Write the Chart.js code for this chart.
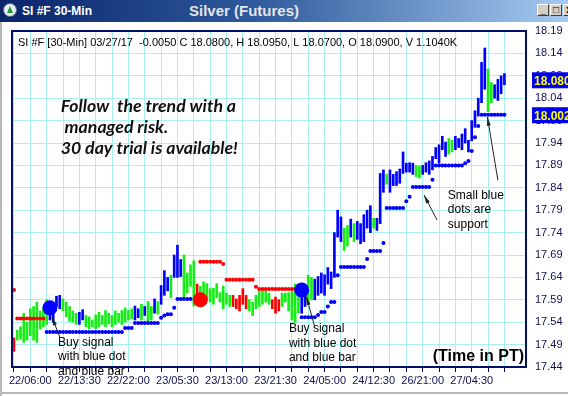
<!DOCTYPE html>
<html lang="en">
<head>
  <meta charset="UTF-8">
  <title>Silver (Futures)</title>
  <script src="https://cdn.jsdelivr.net/npm/chart.js"></script>
  <style>
    body { margin: 0; background: #fff; font-family: "Liberation Sans", Arial, sans-serif; }
    .win { position: relative; width: 568px; height: 396px; overflow: hidden; background: #fff; }
    #chart { position: absolute; left: 0; top: 0; }
    .titlebar {
      position: absolute; left: 0; top: 0; width: 568px; height: 22px;
      background: linear-gradient(to right, #0a246a 0%, #2f5a9c 45%, #a6caf0 100%);
    }
    .icon { position: absolute; left: 3px; top: 3px; width: 14px; height: 14px; border-radius: 50%;
      background: #e8eef8; border: 1px solid #5a6a8a; box-sizing: border-box; }
    .icon:after { content: ''; position: absolute; left: 3px; top: 2px; border-left: 3px solid transparent;
      border-right: 3px solid transparent; border-bottom: 7px solid #1c9c2c; }
    .app { position: absolute; left: 22px; top: 4px; color: #fff; font: bold 12px "Liberation Sans", Arial; }
    .caption { position: absolute; left: 0; width: 488px; top: 2px; text-align: center; color: #e4e4ec;
      font: bold 15px "Liberation Sans", Arial; }
    .btn { position: absolute; top: 4px; width: 12px; height: 12px; background: #d4d0c8;
      border: 1px solid; border-color: #fff #404040 #404040 #fff; box-sizing: border-box;
      font: bold 10px "Liberation Sans", Arial; color: #000; text-align: center; line-height: 10px; }
    .edge-left { position: absolute; left: 0; top: 22px; width: 2px; height: 374px; background: #b8b8b8; }
    .edge-bottom { position: absolute; left: 0; top: 392px; width: 568px; height: 2px; background: #b8b8b8; }
  </style>
</head>
<body>
  <div class="win">
    <canvas id="chart" width="568" height="396"></canvas>
    <div class="titlebar">
      <div class="icon"></div>
      <div class="app">SI #F 30-Min</div>
      <div class="caption">Silver (Futures)</div>
      <div class="btn" style="left:537px">_</div>
      <div class="btn" style="left:550px">&#9633;</div>
      <div class="btn" style="left:563px">x</div>
    </div>
    <div class="edge-left"></div>
    <div class="edge-bottom"></div>
  </div>

  <script>
    const _ = null;

    // x tick labels (every 15 bars, starting at bar 5)
    const timeLabels = ['22/06:00', '22/13:30', '22/22:00', '23/05:30', '23/13:00',
      '23/21:30', '24/05:00', '24/12:30', '26/21:00', '27/04:30'];
    const yTicks = [17.44, 17.49, 17.54, 17.59, 17.64, 17.69, 17.74, 17.79,
      17.84, 17.89, 17.94, 17.99, 18.04, 18.09, 18.14, 18.19];

    // 30-min bars: low / high / colour (g = green, b = blue, r = red)
    const lows = [
      17.475, 17.500, 17.502, 17.495, 17.500, 17.510, 17.500, 17.495, 17.525, 17.530,
      17.535, 17.545, 17.540, 17.575, 17.570, 17.565, 17.552, 17.542, 17.540, 17.535,
      17.535, 17.545, 17.530, 17.525, 17.530, 17.525, 17.530, 17.535, 17.530, 17.536,
      17.530, 17.535, 17.540, 17.535, 17.540, 17.545, 17.548, 17.545, 17.550, 17.545,
      17.555, 17.540, 17.545, 17.560, 17.558, 17.580, 17.600, 17.610, 17.595, 17.640,
      17.640, 17.642, 17.595, 17.605, 17.620, 17.576, 17.600, 17.580, 17.585, 17.590,
      17.585, 17.580, 17.595, 17.585, 17.570, 17.580, 17.575, 17.575, 17.570, 17.565,
      17.580, 17.570, 17.565, 17.555, 17.570, 17.575, 17.580, 17.585, 17.580, 17.570,
      17.560, 17.565, 17.575, 17.585, 17.565, 17.545, 17.540, 17.560, 17.560, 17.575,
      17.585, 17.590, 17.590, 17.600, 17.605, 17.600, 17.625, 17.615, 17.640, 17.730,
      17.720, 17.700, 17.710, 17.730, 17.720, 17.725, 17.715, 17.720, 17.750, 17.740,
      17.750, 17.745, 17.760, 17.830, 17.848, 17.830, 17.845, 17.845, 17.850, 17.872,
      17.875, 17.875, 17.870, 17.865, 17.862, 17.870, 17.875, 17.870, 17.880, 17.905,
      17.895, 17.925, 17.910, 17.915, 17.920, 17.925, 17.930, 17.925, 17.940, 17.920,
      17.945, 17.975, 18.000, 18.030, 18.060, 18.010, 18.030, 18.040, 18.035, 18.050,
      18.070
    ];
    const highs = [
      17.505, 17.522, 17.530, 17.560, 17.540, 17.570, 17.575, 17.585, 17.565, 17.572,
      17.590, 17.580, 17.575, 17.598, 17.600, 17.592, 17.585, 17.575, 17.565, 17.560,
      17.562, 17.568, 17.555, 17.552, 17.545, 17.556, 17.562, 17.555, 17.566, 17.560,
      17.555, 17.565, 17.560, 17.566, 17.572, 17.566, 17.570, 17.576, 17.570, 17.580,
      17.575, 17.586, 17.575, 17.592, 17.586, 17.622, 17.655, 17.640, 17.645, 17.690,
      17.712, 17.680, 17.690, 17.650, 17.668, 17.677, 17.625, 17.620, 17.630, 17.626,
      17.615, 17.616, 17.626, 17.606, 17.620, 17.605, 17.600, 17.600, 17.592, 17.600,
      17.615, 17.600, 17.590, 17.585, 17.600, 17.610, 17.612, 17.610, 17.605, 17.590,
      17.596, 17.590, 17.605, 17.605, 17.606, 17.610, 17.625, 17.620, 17.605, 17.610,
      17.645, 17.640, 17.636, 17.642, 17.650, 17.646, 17.662, 17.652, 17.740, 17.790,
      17.775, 17.750, 17.756, 17.770, 17.760, 17.765, 17.760, 17.780, 17.790, 17.800,
      17.772, 17.772, 17.872, 17.880, 17.870, 17.880, 17.870, 17.876, 17.882, 17.920,
      17.895, 17.896, 17.895, 17.890, 17.888, 17.890, 17.896, 17.900, 17.910, 17.930,
      17.936, 17.955, 17.942, 17.950, 17.946, 17.955, 17.950, 17.960, 17.972, 17.946,
      17.990, 18.012, 18.040, 18.120, 18.152, 18.105, 18.075, 18.070, 18.082, 18.090,
      18.095
    ];
    const barKinds = (
      'rggggggggg' + 'gbbbbggggg' + 'bbgggggggg' + 'gggggggbbg' + 'bggbgbbbgb' +
      'bbggggrggg' + 'gggggggrrr' + 'rrgggggggr' + 'rrggggggbb' + 'ggbbbbbbbb' +
      'bggbgbbbbb' + 'gbbbgbbbbb' + 'bbbggbbbbb' + 'bbbggbbbbb' + 'bbbbbggbbb' + 'b'
    ).split('');

    // trailing stop dots: red above price, blue (support) below
    const shortStops = [
      17.612, 17.548, 17.548, 17.548, 17.548, 17.548, 17.548, 17.548, 17.548, 17.548,
      _, _, _, _, _, _, _, _, _, _,
      _, _, _, _, _, _, _, _, _, _,
      _, _, _, _, _, _, _, _, _, _,
      _, _, _, _, _, _, _, _, _, _,
      _, _, _, _, _, _, _, 17.675, 17.675, 17.675,
      17.675, 17.675, 17.675, 17.675, 17.670, 17.635, 17.635, 17.635, 17.635, 17.635,
      17.635, 17.635, 17.635, 17.635, 17.619, 17.614, 17.614, 17.614, 17.614, 17.614,
      17.614, 17.614, 17.614, 17.614, 17.614, 17.614, 17.614, 17.614, _, _
    ];
    const longStops = [
      _, _, _, _, _, _, _, _, _, _,
      17.518, 17.518, 17.518, 17.518, 17.518, 17.518, 17.518, 17.518, 17.518, 17.518,
      17.518, 17.518, 17.518, 17.518, 17.518, 17.518, 17.518, 17.518, 17.518, 17.518,
      17.518, 17.518, 17.518, 17.518, 17.527, 17.527, 17.527, 17.538, 17.538, 17.538,
      17.538, 17.538, 17.538, 17.538, 17.538, 17.550, 17.555, 17.558, 17.558, 17.572,
      17.592, 17.592, 17.592, 17.592, 17.592, _, _, _, _, _,
      _, _, _, _, _, _, _, _, _, _,
      _, _, _, _, _, _, _, _, _, _,
      _, _, _, _, _, _, _, _, 17.551, 17.551,
      17.551, 17.551, 17.551, 17.556, 17.563, 17.563, 17.575, 17.585, 17.585, 17.645,
      17.663, 17.663, 17.663, 17.663, 17.663, 17.663, 17.663, 17.663, 17.681, 17.699,
      17.699, 17.699, 17.699, 17.717, 17.795, 17.795, 17.795, 17.795, 17.795, 17.795,
      17.810, 17.820, 17.842, 17.842, 17.842, 17.842, 17.842, 17.842, 17.858, 17.890,
      17.890, 17.890, 17.890, 17.890, 17.890, 17.890, 17.890, 17.890, 17.895, 17.900,
      17.922, 17.953, 17.978, 18.003, 18.003, 18.003, 18.003, 18.003, 18.003, 18.003,
      18.003
    ];

    // big signal dots
    const sigIdx = [11, 57, 88];
    const sigPrice = [17.572, 17.590, 17.612];
    const sigKind = ['b', 'r', 'b'];

    const lastClose = 18.080;
    const supportLevel = 18.002;
    const header = 'SI #F [30-Min] 03/27/17  -0.0050 C 18.0800, H 18.0950, L 18.0700, O 18.0900, V 1.1040K';
    const promo = ['Follow  the trend with a', ' managed risk.', '30 day trial is available!'];

    // notes: text anchored at (bar, price); arrows from tail to head
    const notes = [
      { x: 13.5, y: 17.494, lines: ['Buy signal', 'with blue dot', 'and blue bar'] },
      { x: 84.1, y: 17.525, lines: ['Buy signal', 'with blue dot', 'and blue bar'] },
      { x: 132.7, y: 17.822, lines: ['Small blue', 'dots are', 'support'] }
    ];
    const arrows = [
      [14.1, 17.505, 11.6, 17.552],
      [92.0, 17.529, 89.4, 17.598],
      [129.4, 17.768, 125.4, 17.824],
      [148.0, 17.857, 144.8, 17.998]
    ];

    const kindColor = { g: '#14ee14', b: '#0000ff', r: '#ff0000' };
    const xTickIdx = highs.map((h, k) => k).filter(k => k % 5 === 0);
    const labelIdx = timeLabels.map((t, k) => 5 + 15 * k);
    const axisFont = { family: '"Liberation Sans", Arial', size: 11 };

    function arrow(ctx, x1, y1, x2, y2) {
      const a = Math.atan2(y2 - y1, x2 - x1);
      ctx.beginPath();
      ctx.moveTo(x1, y1);
      ctx.lineTo(x2, y2);
      ctx.stroke();
      ctx.beginPath();
      ctx.moveTo(x2, y2);
      ctx.lineTo(x2 - 9 * Math.cos(a - 0.22), y2 - 9 * Math.sin(a - 0.22));
      ctx.lineTo(x2 - 9 * Math.cos(a + 0.22), y2 - 9 * Math.sin(a + 0.22));
      ctx.closePath();
      ctx.fill();
    }

    const overlay = {
      id: 'overlay',
      beforeDatasetsDraw(chart) {
        const { ctx, scales: { x, y } } = chart;
        ctx.save();
        ctx.fillStyle = '#111';
        ctx.textBaseline = 'middle';
        ctx.font = 'italic bold 17.7px Lato';
        const px = x.getPixelForValue(14.3);
        [18.023, 17.974, 17.928].forEach((p, k) => ctx.fillText(promo[k], px, y.getPixelForValue(p)));
        ctx.restore();
      },
      afterDatasetsDraw(chart) {
        const { ctx, chartArea: area, scales: { x, y } } = chart;
        ctx.save();
        // plot frame
        ctx.strokeStyle = '#00106a';
        ctx.lineWidth = 2;
        ctx.strokeRect(area.left, area.top, area.right - area.left, area.bottom - area.top);

        ctx.fillStyle = '#000';
        ctx.textBaseline = 'middle';
        ctx.font = '11px "Liberation Sans", Arial';
        ctx.fillText(header, area.left + 6, area.top + 12);

        ctx.font = '12px "Liberation Sans", Arial';
        notes.forEach(n => {
          const nx = x.getPixelForValue(n.x);
          const ny = y.getPixelForValue(n.y);
          n.lines.forEach((t, k) => ctx.fillText(t, nx, ny + k * 14.3));
        });

        ctx.strokeStyle = '#222';
        ctx.fillStyle = '#222';
        ctx.lineWidth = 1;
        arrows.forEach(a => arrow(ctx, x.getPixelForValue(a[0]), y.getPixelForValue(a[1]),
          x.getPixelForValue(a[2]), y.getPixelForValue(a[3])));

        ctx.fillStyle = '#000';
        ctx.font = 'bold 16px "Liberation Sans", Arial';
        ctx.textAlign = 'right';
        ctx.fillText('(Time in PT)', area.right - 2, area.bottom - 10);

        // price markers on the right axis
        ctx.textAlign = 'left';
        ctx.font = 'bold 12px "Liberation Sans", Arial';
        [lastClose, supportLevel].forEach(v => {
          const py = y.getPixelForValue(v);
          ctx.fillStyle = '#0000f0';
          ctx.fillRect(area.right + 6, py - 8, chart.width - area.right - 6, 16);
          ctx.fillStyle = '#ffff00';
          ctx.fillText(v.toFixed(3), area.right + 8, py + 1);
        });
        ctx.restore();
      }
    };

    const ctx = document.getElementById('chart').getContext('2d');
    new Chart(ctx, {
      type: 'bar',
      data: {
        datasets: [
          {
            type: 'scatter',
            data: sigIdx.map((v, k) => ({ x: v, y: sigPrice[k] })),
            pointRadius: 7.5,
            pointBackgroundColor: sigKind.map(c => kindColor[c]),
            pointBorderWidth: 0,
            order: 0
          },
          {
            type: 'scatter',
            data: shortStops.map((v, k) => ({ x: k, y: v })),
            pointRadius: 2,
            pointBackgroundColor: '#ff0000',
            pointBorderWidth: 0,
            order: 1
          },
          {
            type: 'scatter',
            data: longStops.map((v, k) => ({ x: k, y: v })),
            pointRadius: 2,
            pointBackgroundColor: '#0000ff',
            pointBorderWidth: 0,
            order: 1
          },
          {
            type: 'bar',
            data: highs.map((h, k) => ({ x: k, y: [lows[k], h] })),
            backgroundColor: barKinds.map(c => kindColor[c]),
            barThickness: 2,
            order: 2
          }
        ]
      },
      options: {
        responsive: false,
        animation: false,
        devicePixelRatio: 1,
        layout: { padding: { left: 12, top: 31, right: 0, bottom: 0 } },
        plugins: { legend: { display: false }, tooltip: { enabled: false } },
        scales: {
          x: {
            type: 'linear',
            min: -0.6,
            max: 156.6,
            offset: false,
            afterBuildTicks(s) { s.ticks = xTickIdx.map(v => ({ value: v })); },
            afterFit(s) { s.height = 29; },
            ticks: {
              callback(v) { const k = labelIdx.indexOf(v); return k < 0 ? '' : timeLabels[k]; },
              autoSkip: false, maxRotation: 0, padding: 2, color: '#101050', font: axisFont
            },
            grid: { color: '#aaf0f0', offset: false, tickColor: '#000060', tickLength: 5 },
            border: { display: false }
          },
          y: {
            type: 'linear',
            position: 'right',
            min: 17.44,
            max: 18.19,
            afterBuildTicks(s) { s.ticks = yTicks.map(v => ({ value: v })); },
            afterFit(s) { s.width = 42; },
            ticks: { callback: v => v.toFixed(2), padding: 9, color: '#101050', font: axisFont },
            grid: { color: '#aaf0f0', drawTicks: false },
            border: { display: false }
          }
        }
      },
      plugins: [overlay]
    });
  </script>
</body>
</html>
